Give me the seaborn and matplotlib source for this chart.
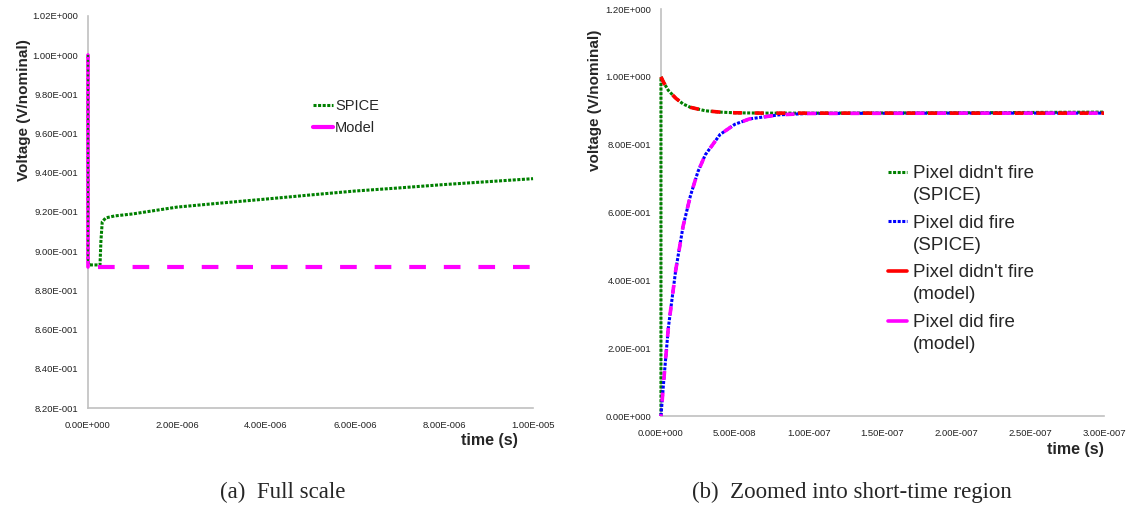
import numpy as np
import pandas as pd
import matplotlib
matplotlib.use("Agg")
import matplotlib.pyplot as plt
from matplotlib.lines import Line2D
from matplotlib.legend_handler import HandlerLine2D
from matplotlib.ticker import FuncFormatter, MultipleLocator
import seaborn as sns

sns.set_style("white")
plt.rcParams['font.family'] = ['Liberation Sans', 'DejaVu Sans']

# -----------------------------
# Data
# -----------------------------
# (a) full scale
spice_t = [0, 0, 2e-8, 1e-7, 2e-7, 2.7e-7, 2.9e-7, 3.2e-7, 4e-7, 6e-7, 1e-6,
           2e-6, 3e-6, 4e-6, 5e-6, 6e-6, 7e-6, 8e-6, 9e-6, 1e-5]
spice_v = [1.0, 0.895, 0.893, 0.893, 0.893, 0.893, 0.905, 0.915, 0.917, 0.918, 0.919,
           0.9225, 0.9246, 0.9266, 0.9287, 0.9307, 0.9323, 0.934, 0.9355, 0.937]
model_t = [0, 0, 1e-5]
model_v = [1.0, 0.892, 0.892]

# (b) zoomed
nofire_spice_t = [0, 0, 2e-9, 5e-9, 1e-8, 1.5e-8, 2e-8, 3e-8, 4e-8, 5e-8, 7e-8,
                  1e-7, 2e-7, 3e-7]
nofire_spice_v = [0.0, 1.0, 0.982, 0.96, 0.937, 0.92, 0.91, 0.9, 0.896, 0.894, 0.893,
                  0.893, 0.894, 0.896]
fire_spice_t = [0, 2e-9, 5e-9, 1e-8, 1.5e-8, 2e-8, 2.5e-8, 3e-8, 4e-8, 5e-8, 6e-8,
                8e-8, 1e-7, 2e-7, 3e-7]
fire_spice_v = [0.0, 0.11, 0.26, 0.43, 0.56, 0.65, 0.72, 0.77, 0.83, 0.86, 0.876,
                0.888, 0.892, 0.893, 0.893]
nofire_model_t = [0, 2e-9, 5e-9, 1e-8, 1.5e-8, 2e-8, 3e-8, 4e-8, 5e-8, 7e-8,
                  1e-7, 2e-7, 3e-7]
nofire_model_v = [1.0, 0.982, 0.96, 0.937, 0.92, 0.91, 0.9, 0.896, 0.894, 0.893,
                  0.893, 0.893, 0.893]
fire_model_t = [0, 2e-9, 5e-9, 1e-8, 1.5e-8, 2e-8, 2.5e-8, 3e-8, 4e-8, 5e-8, 6e-8,
                8e-8, 1e-7, 2e-7, 3e-7]
fire_model_v = [0.0, 0.11, 0.26, 0.43, 0.56, 0.65, 0.72, 0.77, 0.83, 0.86, 0.876,
                0.888, 0.892, 0.893, 0.893]

right_labels = ["Pixel didn't fire\n(SPICE)", "Pixel did fire\n(SPICE)",
                "Pixel didn't fire\n(model)", "Pixel did fire\n(model)"]


def sci(v, pos):
    # excel style 1.02E+000
    if v == 0:
        return "0.00E+000"
    e = int(np.floor(np.log10(abs(v)) + 1e-9))
    m = v / 10 ** e
    if round(m, 2) >= 10:
        m /= 10
        e += 1
    sign = "+" if e >= 0 else "-"
    return f"{m:.2f}E{sign}{abs(e):03d}"


def style_axes(ax):
    for s in ["top", "right"]:
        ax.spines[s].set_visible(False)
    for s in ["left", "bottom"]:
        ax.spines[s].set_color("#c0c0c0")
        ax.spines[s].set_linewidth(1.2)
    ax.tick_params(axis="both", which="major", direction="out", length=4,
                   width=1, color="#c0c0c0", labelsize=6.8, labelcolor="#222222")
    ax.tick_params(axis="y", pad=3)
    ax.tick_params(axis="x", pad=5)
    ax.xaxis.set_major_formatter(FuncFormatter(sci))
    ax.yaxis.set_major_formatter(FuncFormatter(sci))
    ax.grid(False)


class FirstLineHandler(HandlerLine2D):
    # put the legend line next to the first line of a two-line label
    def create_artists(self, legend, orig_handle, xdescent, ydescent,
                       width, height, fontsize, trans):
        arts = super().create_artists(legend, orig_handle, xdescent, ydescent,
                                      width, height, fontsize, trans)
        for a in arts:
            a.set_ydata(np.asarray(a.get_ydata()) + 0.68 * fontsize)
        return arts


dot = (0, (1, 0.5))

fig = plt.figure(figsize=(11.31, 5.09), dpi=100)
ax1 = fig.add_axes([0.0778, 0.1984, 0.3935, 0.7702])
ax2 = fig.add_axes([0.5844, 0.1827, 0.3917, 0.7996])

# -----------------------------
# (a) full scale
# -----------------------------
sns.lineplot(x=spice_t, y=spice_v, ax=ax1, sort=False, estimator=None, clip_on=False,
             color="#008000", lw=2.2, linestyle=dot, label="SPICE", zorder=3)
# vertical drop of the model drawn solid, the settled level dashed
sns.lineplot(x=model_t[:2], y=model_v[:2], ax=ax1, sort=False, estimator=None,
             clip_on=False, color="#ff00ff", lw=2.6, linestyle="-", zorder=3,
             legend=False)
sns.lineplot(x=model_t[1:], y=model_v[1:], ax=ax1, sort=False, estimator=None,
             clip_on=False, color="#ff00ff", lw=3, linestyle=(5.9, (4, 4.3)),
             label="Model", zorder=3)
sns.lineplot(x=spice_t[:2], y=spice_v[:2], ax=ax1, sort=False, estimator=None,
             clip_on=False, color="#008000", lw=1.4, linestyle=(0, (1, 1.5)), zorder=4,
             legend=False)
ax1.set_xlim(0, 1e-5)
ax1.set_ylim(0.82, 1.02)
ax1.yaxis.set_major_locator(MultipleLocator(0.02))
ax1.xaxis.set_major_locator(MultipleLocator(2e-6))
style_axes(ax1)
ax1.set_ylabel("Voltage (V/nominal)", fontsize=11, fontweight="bold")
ax1.yaxis.set_label_coords(-0.128, 0.76)
ax1.set_xlabel("time (s)", fontsize=11.5, fontweight="bold", va="top")
ax1.xaxis.set_label_coords(0.903, -0.064)
leg1 = ax1.legend(loc="upper left", bbox_to_anchor=(0.506, 0.788), frameon=False,
                  fontsize=10.5, handlelength=1.35, handletextpad=0.15, labelspacing=0.55,
                  borderaxespad=0, borderpad=0)
leg1.get_lines()[1].set_linestyle("-")

# -----------------------------
# (b) zoomed into short-time region
# -----------------------------
sns.lineplot(x=nofire_spice_t, y=nofire_spice_v, ax=ax2, sort=False, estimator=None,
             clip_on=False, color="#008000", lw=2.2, linestyle=dot, legend=False, zorder=3)
sns.lineplot(x=fire_spice_t, y=fire_spice_v, ax=ax2, sort=False, estimator=None,
             clip_on=False, color="#0000ff", lw=2.2, linestyle=dot, legend=False, zorder=3)
sns.lineplot(x=nofire_model_t, y=nofire_model_v, ax=ax2, sort=False, estimator=None,
             clip_on=False, color="#ff0000", lw=2.6, linestyle=(0, (2.5, 3.5)),
             legend=False, zorder=3)
sns.lineplot(x=fire_model_t, y=fire_model_v, ax=ax2, sort=False, estimator=None,
             clip_on=False, color="#ff00ff", lw=2.6, linestyle=(2, (2.5, 3.5)),
             legend=False, zorder=3)
ax2.set_xlim(0, 3e-7)
ax2.set_ylim(0, 1.2)
ax2.yaxis.set_major_locator(MultipleLocator(0.2))
ax2.xaxis.set_major_locator(MultipleLocator(5e-8))
style_axes(ax2)
ax2.set_ylabel("voltage (V/nominal)", fontsize=11, fontweight="bold")
ax2.yaxis.set_label_coords(-0.133, 0.776)
ax2.set_xlabel("time (s)", fontsize=11.5, fontweight="bold", va="top")
ax2.xaxis.set_label_coords(0.935, -0.064)

handle_styles = [("#008000", dot, 2.2), ("#0000ff", dot, 2.2),
                 ("#ff0000", "-", 2.6), ("#ff00ff", "-", 2.6)]
handles = [Line2D([], [], color=c, linestyle=ls, lw=lw) for c, ls, lw in handle_styles]
leg2 = ax2.legend(handles, right_labels, loc="upper left", bbox_to_anchor=(0.512, 0.617),
                  frameon=False, fontsize=13.5, handlelength=1.05, handletextpad=0.3,
                  labelspacing=0.56, borderaxespad=0, borderpad=0,
                  handler_map={Line2D: FirstLineHandler()})
for t in leg2.get_texts():
    t.set_linespacing(1.4)

# captions
fig.text(0.250, 0.033, "(a)  Full scale", ha="center", va="center",
         family=["Liberation Serif", "DejaVu Serif"], fontsize=16.5)
fig.text(0.753, 0.033, "(b)  Zoomed into short-time region", ha="center", va="center",
         family=["Liberation Serif", "DejaVu Serif"], fontsize=16.5)

fig.savefig("out.png", dpi=100)
